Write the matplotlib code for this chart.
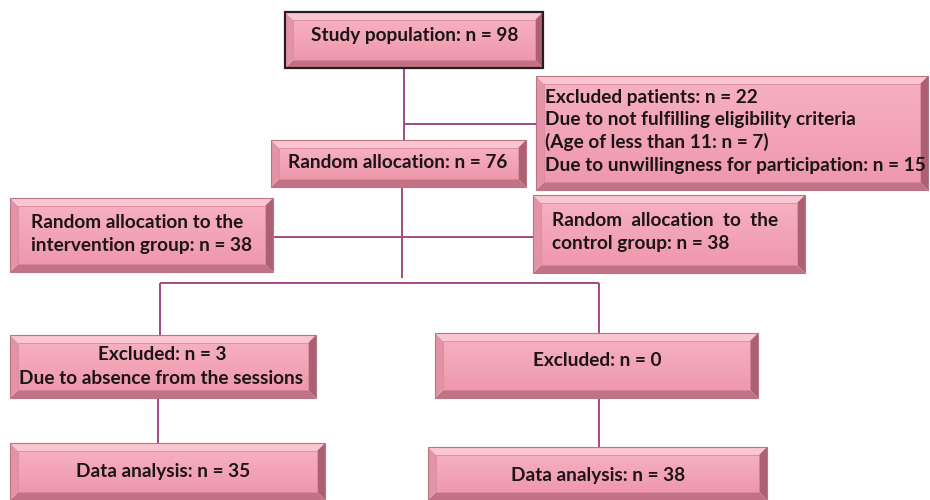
import matplotlib
matplotlib.use("Agg")
import matplotlib.pyplot as plt
from matplotlib.patches import Polygon, Rectangle
import numpy as np

# ---- data (flowchart texts) ----
study_text = ["Study population: n = 98"]
excluded_patients_text = ["Excluded patients: n = 22",
                          "Due to not fulfilling eligibility criteria",
                          "(Age of less than 11: n = 7)",
                          "Due to unwillingness for participation: n = 15"]
random_text = ["Random allocation: n = 76"]
intervention_text = ["Random allocation to the", "intervention group: n = 38"]
control_text = ["Random  allocation  to  the", "control group: n = 38"]
excluded_int_text = ["Excluded: n = 3", "Due to absence from the sessions"]
excluded_ctl_text = ["Excluded: n = 0"]
analysis_int_text = ["Data analysis: n = 35"]
analysis_ctl_text = ["Data analysis: n = 38"]

W, H = 930, 500
fig = plt.figure(figsize=(W / 100, H / 100), dpi=100)
ax = fig.add_axes([0, 0, 1, 1])
ax.set_xlim(0, W)
ax.set_ylim(H, 0)
ax.axis("off")

LINE = "#a24a86"
FONT = "Lato"
FS = 13.7
TXT = "#1c1416"


def bevel_box(x0, y0, x1, y1, b=8, dark_border=False):
    ax.add_patch(Polygon([(x0, y0), (x1, y0), (x1 - b, y0 + b), (x0 + b, y0 + b)],
                         closed=True, fc="#f9c6d2", ec="none", zorder=2))
    ax.add_patch(Polygon([(x0, y1), (x1, y1), (x1 - b, y1 - b), (x0 + b, y1 - b)],
                         closed=True, fc="#c27284", ec="none", zorder=2))
    ax.add_patch(Polygon([(x0, y0), (x0 + b, y0 + b), (x0 + b, y1 - b), (x0, y1)],
                         closed=True, fc="#e293a7", ec="none", zorder=2))
    ax.add_patch(Polygon([(x1, y0), (x1 - b, y0 + b), (x1 - b, y1 - b), (x1, y1)],
                         closed=True, fc="#ad6072", ec="none", zorder=2))
    grad = np.linspace(0, 1, 64)[:, None]
    c_top = np.array([0xf6, 0xb0, 0xc1]) / 255.0
    c_bot = np.array([0xef, 0x98, 0xad]) / 255.0
    img = c_top[None, None, :] * (1 - grad[:, :, None]) + c_bot[None, None, :] * grad[:, :, None]
    ax.imshow(img, extent=(x0 + b, x1 - b, y1 - b, y0 + b), aspect="auto",
              zorder=3, interpolation="bilinear")
    ax.add_patch(Rectangle((x0 + b, y0 + b), x1 - x0 - 2 * b, y1 - y0 - 2 * b,
                           fc="none", ec="#d98a9c", lw=0.6, zorder=4))
    ec = "#2a1c1e" if dark_border else "#b87584"
    lw = 1.6 if dark_border else 0.8
    ax.add_patch(Rectangle((x0, y0), x1 - x0, y1 - y0, fc="none", ec=ec, lw=lw, zorder=5))


def label(x, y, s, ha="center"):
    ax.text(x, y, s, ha=ha, va="center", fontsize=FS, fontweight="bold",
            family=[FONT, "DejaVu Sans"], color=TXT, zorder=6)


def lines(xs, ys):
    ax.plot(xs, ys, color=LINE, lw=1.4, zorder=1, solid_capstyle="butt")


# connectors
lines([404, 404], [68, 140])
lines([404, 536], [124, 124])
lines([402, 402], [187, 278])
lines([273, 533], [237, 237])
lines([160, 599], [283, 283])
lines([160, 160], [283, 335])
lines([599, 599], [283, 333])
lines([158, 158], [398, 443])
lines([599, 599], [398, 447])

# boxes
bevel_box(285, 12, 543, 68, dark_border=True)
label(415, 36, study_text[0])

bevel_box(536, 76, 928, 190)
for i, s in enumerate(excluded_patients_text):
    label(545, 97 + i * 22.7, s, ha="left")

bevel_box(271, 140, 526, 187)
label(398, 162, random_text[0])

bevel_box(10, 198, 273, 272)
label(31, 222, intervention_text[0], ha="left")
label(31, 246, intervention_text[1], ha="left")

bevel_box(533, 195, 805, 273)
label(552, 220, control_text[0], ha="left")
label(552, 244, control_text[1], ha="left")

bevel_box(10, 335, 316, 398)
label(162, 354, excluded_int_text[0])
label(161, 378, excluded_int_text[1])

bevel_box(435, 333, 758, 398)
label(597, 360, excluded_ctl_text[0])

bevel_box(10, 443, 325, 500)
label(163, 472, analysis_int_text[0])

bevel_box(428, 447, 767, 500)
label(598, 475, analysis_ctl_text[0])

fig.savefig("out.png", dpi=100)
